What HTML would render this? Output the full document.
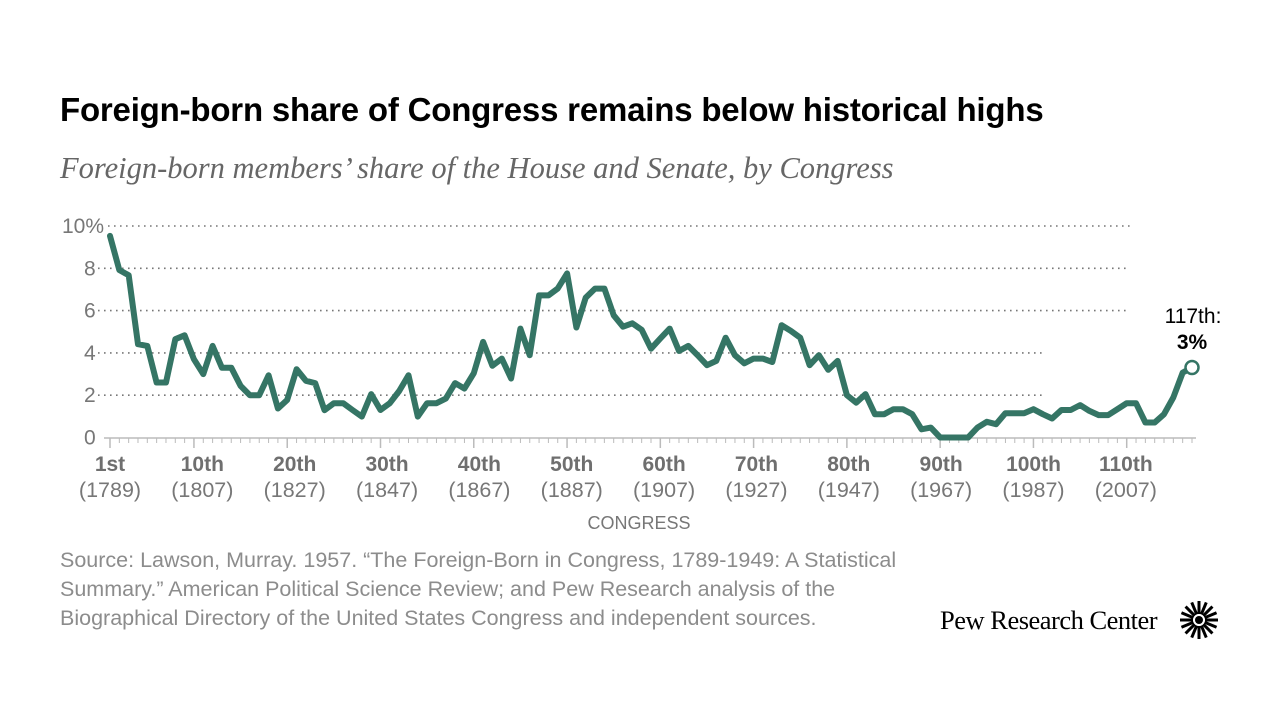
<!DOCTYPE html>
<html><head><meta charset="utf-8">
<style>
body{margin:0;background:#fff;width:1280px;height:720px;overflow:hidden;font-family:"Liberation Sans",sans-serif}
.t{position:absolute;white-space:nowrap}
</style></head>
<body>
<div class="t" style="left:60px;top:91px;font-size:33px;font-weight:bold;color:#000;letter-spacing:-0.2px">Foreign-born share of Congress remains below historical highs</div>
<div class="t" style="left:60px;top:151px;font-size:30.5px;font-style:italic;font-family:'Liberation Serif',serif;color:#666">Foreign-born members’ share of the House and Senate, by Congress</div>
<svg id="chart" width="1280" height="720" style="position:absolute;left:0;top:0"></svg>
<div class="t" style="left:60px;top:546px;font-size:21.5px;line-height:29px;color:#8c8c8c">Source: Lawson, Murray. 1957. “The Foreign-Born in Congress, 1789-1949: A Statistical<br>Summary.” American Political Science Review; and Pew Research analysis of the<br>Biographical Directory of the United States Congress and independent sources.</div>
<div class="t" style="left:940px;top:605px;font-size:26.5px;font-family:'Liberation Serif',serif;color:#000;letter-spacing:-0.5px">Pew Research Center</div>
<svg width="42" height="42" style="position:absolute;left:1178px;top:599px" viewBox="-21 -21 42 42">
<g id="rays"></g><circle r="4" fill="#000"/>
</svg>
<script>
const values=[9.53,7.92,7.67,4.41,4.33,2.6,2.6,4.65,4.83,3.7,3.0,4.33,3.3,3.3,2.44,2.0,2.0,2.94,1.37,1.78,3.23,2.68,2.57,1.29,1.62,1.62,1.3,0.99,2.05,1.3,1.62,2.2,2.94,0.99,1.62,1.62,1.84,2.57,2.31,3.04,4.52,3.39,3.73,2.79,5.15,3.89,6.72,6.72,7.04,7.76,5.2,6.61,7.04,7.04,5.78,5.24,5.4,5.09,4.2,4.68,5.15,4.09,4.33,3.89,3.42,3.62,4.72,3.89,3.51,3.73,3.73,3.57,5.31,5.04,4.72,3.42,3.89,3.2,3.62,2.0,1.65,2.05,1.1,1.1,1.34,1.34,1.1,0.39,0.47,0,0,0,0,0.47,0.74,0.63,1.15,1.15,1.15,1.34,1.1,0.9,1.3,1.3,1.53,1.26,1.06,1.06,1.34,1.62,1.62,0.71,0.71,1.1,1.89,3.07,3.31];
const yTicks=[0,2,4,6,8,10];
const yTickLabels=["0","2","4","6","8","10%"];
const xLabelCongress=["1st","10th","20th","30th","40th","50th","60th","70th","80th","90th","100th","110th"];
const xLabelYears=["(1789)","(1807)","(1827)","(1847)","(1867)","(1887)","(1907)","(1927)","(1947)","(1967)","(1987)","(2007)"];
const NS="http://www.w3.org/2000/svg";
const svg=document.getElementById('chart');
const x=c=>110+(c-1)*(1082/116);
const y=v=>437.5-v*21.15;
function mk(t,a,p){const e=document.createElementNS(NS,t);for(const k in a)e.setAttribute(k,a[k]);(p||svg).appendChild(e);return e;}
yTicks.forEach((v,i)=>{
  if(v!==0){
    const g=mk('line',{x1:(i==5?108:98),x2:(v===2||v===4?1042:1130),y1:y(v),y2:y(v),stroke:'#777','stroke-width':1.6,'stroke-dasharray':'1.6 4.4'});
    
    
  }
  const t=mk('text',{x:(i==5?62:84),y:y(v)+7,'text-anchor':'start','font-size':21,fill:'#777','font-family':'Liberation Sans'});
  t.textContent=yTickLabels[i];
  
  
});
const base=mk('line',{x1:104,x2:1196,y1:438,y2:438,stroke:'#bbb','stroke-width':1.5});


for(let c=1;c<=117;c++){
  const major=(c===1||c%10===0);
  const tk=mk('line',{x1:x(c),x2:x(c),y1:438,y2:major?448:443,stroke:'#bbb','stroke-width':major?1.5:1});
  
  
}
xLabelCongress.forEach((s,i)=>{
  const cx=110+i*92.35;
  const a=mk('text',{x:cx,y:471,'text-anchor':'middle','font-size':21,'font-weight':'bold',fill:'#6f6f6f','font-family':'Liberation Sans'});
  a.textContent=s;
  
  
  const b=mk('text',{x:cx,y:497,'text-anchor':'middle','font-size':21.5,fill:'#777','font-family':'Liberation Sans'});
  b.textContent=xLabelYears[i];
  
  
});
const at=mk('text',{x:639,y:529,'text-anchor':'middle','font-size':18,fill:'#777','font-family':'Liberation Sans'});
at.textContent='CONGRESS';


const pts=values.map((v,i)=>x(i+1).toFixed(1)+','+y(v).toFixed(1)).join(' ');
const pl=mk('polyline',{points:pts,fill:'none',stroke:'#357565','stroke-width':6,'stroke-linejoin':'round','stroke-linecap':'round'});


const last=values.length;
const dot=mk('circle',{cx:x(last),cy:y(values[last-1]),r:6.5,fill:'#fff',stroke:'#357565','stroke-width':2.5});


const l1=mk('text',{x:1193,y:323,'text-anchor':'middle','font-size':21,fill:'#000','font-family':'Liberation Sans'});
l1.textContent='117th:';


const l2=mk('text',{x:1192,y:349,'text-anchor':'middle','font-size':21,'font-weight':'bold',fill:'#000','font-family':'Liberation Sans'});
l2.textContent=Math.round(values[last-1])+'%';


const rays=document.getElementById('rays');
for(let i=0;i<16;i++){
  const a=i*Math.PI/8;
  const r=document.createElementNS(NS,'line');
  r.setAttribute('x1',6*Math.cos(a));r.setAttribute('y1',6*Math.sin(a));
  r.setAttribute('x2',19*Math.cos(a));r.setAttribute('y2',19*Math.sin(a));
  r.setAttribute('stroke','#000');r.setAttribute('stroke-width','3');
  rays.appendChild(r);
}
</script>
</body></html>
